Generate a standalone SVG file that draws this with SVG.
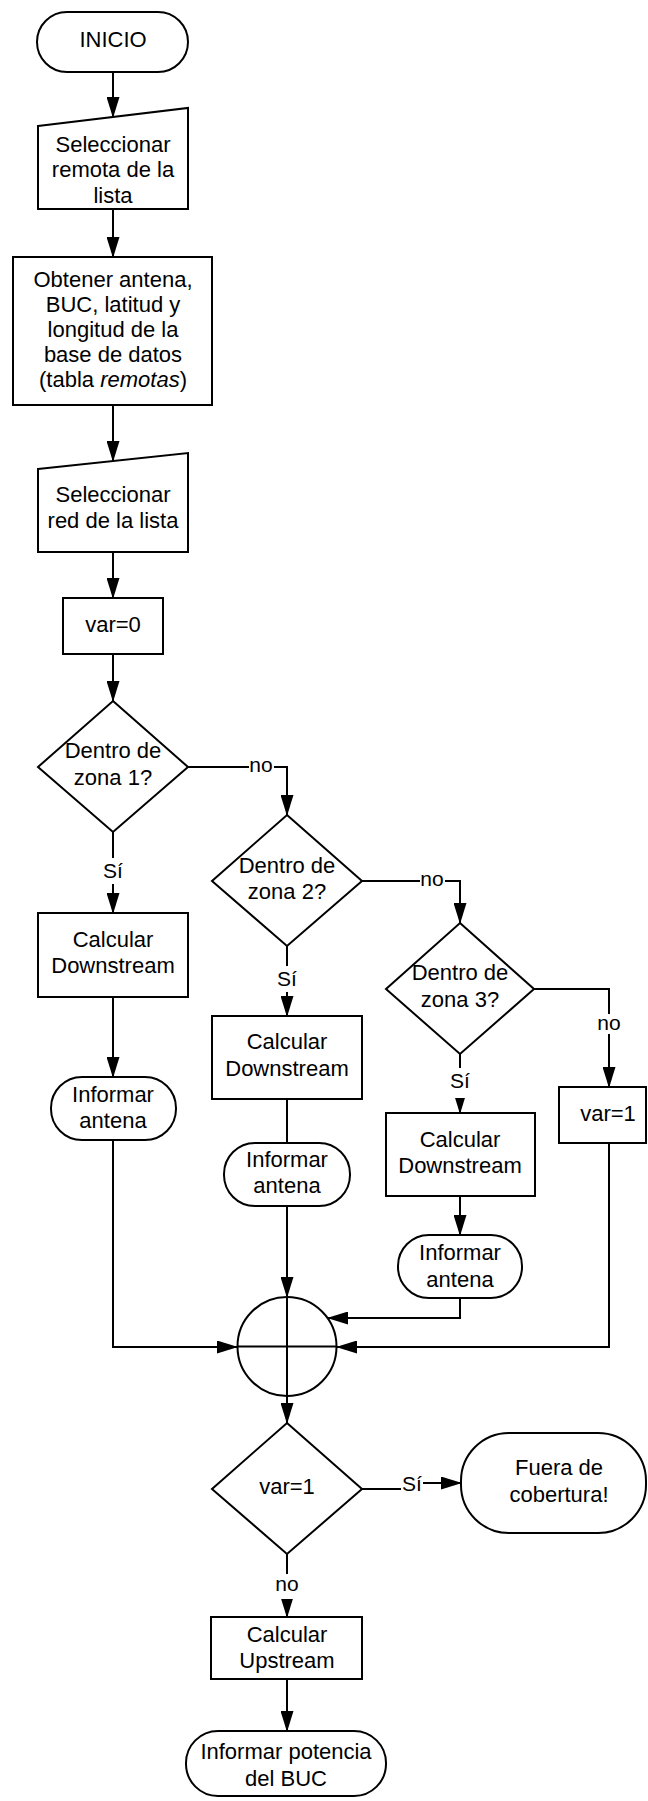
<svg xmlns="http://www.w3.org/2000/svg" width="648" height="1801" viewBox="0 0 648 1801">
  <style>
    .shape { fill: #ffffff; stroke: #000000; stroke-width: 2; }
    .t { font-family: "Liberation Sans", Arial, sans-serif; font-size: 22px; fill: #000000; text-anchor: middle; }
    .lbl { font-family: "Liberation Sans", Arial, sans-serif; font-size: 21px; fill: #000000; text-anchor: middle; }
    .edge { fill: none; stroke: #000000; stroke-width: 2; }
    .arrow { marker-end: url(#head); }
    .lblbg { fill: #ffffff; stroke: none; }
  </style>
  <defs>
    <marker id="head" viewBox="0 0 21 13" refX="20" refY="6.5" markerWidth="21" markerHeight="13" markerUnits="userSpaceOnUse" orient="auto">
      <path d="M0,0 L21,6.5 L0,13 Z" fill="#000000"/>
    </marker>
  </defs>
  <rect width="648" height="1801" fill="#ffffff"/>

  <!-- connectors -->
  <g id="connectors">
    <path class="edge arrow" d="M113,72 V117"/>
    <path class="edge arrow" d="M113,209 V257"/>
    <path class="edge arrow" d="M113,405 V461"/>
    <path class="edge arrow" d="M113,552 V598"/>
    <path class="edge arrow" d="M113,654 V701"/>
    <path class="edge arrow" d="M188,767 H287 V815"/>
    <path class="edge arrow" d="M113,832 V913"/>
    <path class="edge arrow" d="M113,997 V1077"/>
    <path class="edge arrow" d="M362,881 H460 V923"/>
    <path class="edge arrow" d="M287,946 V1016"/>
    <path class="edge" d="M287,1099 V1143"/>
    <path class="edge arrow" d="M534,989 H609 V1087"/>
    <path class="edge arrow" d="M460,1054 V1113"/>
    <path class="edge arrow" d="M460,1196 V1235"/>
    <path class="edge arrow" d="M113,1140 V1347 H237"/>
    <path class="edge arrow" d="M287,1206 V1297"/>
    <path class="edge arrow" d="M460,1298 V1318 H328"/>
    <path class="edge arrow" d="M609,1143 V1347 H337"/>
    <path class="edge arrow" d="M287,1396 V1423"/>
    <path class="edge arrow" d="M362,1489 H410 V1483 H461"/>
    <path class="edge arrow" d="M287,1554 V1617"/>
    <path class="edge arrow" d="M287,1679 V1731"/>

    <!-- connector labels -->
    <g id="edge-labels">
      <rect class="lblbg" x="249" y="756" width="25" height="20"/>
      <text class="lbl" x="261" y="772">no</text>
      <rect class="lblbg" x="102" y="858" width="22" height="26"/>
      <text class="lbl" x="113" y="878">Sí</text>
      <rect class="lblbg" x="276" y="966" width="22" height="26"/>
      <text class="lbl" x="287" y="986">Sí</text>
      <rect class="lblbg" x="420" y="870" width="25" height="20"/>
      <text class="lbl" x="432" y="886">no</text>
      <rect class="lblbg" x="597" y="1014" width="25" height="20"/>
      <text class="lbl" x="609" y="1030">no</text>
      <rect class="lblbg" x="449" y="1068" width="22" height="30"/>
      <text class="lbl" x="460" y="1088">Sí</text>
      <rect class="lblbg" x="401" y="1470" width="22" height="26"/>
      <text class="lbl" x="412" y="1491">Sí</text>
      <rect class="lblbg" x="274" y="1574" width="26" height="25"/>
      <text class="lbl" x="287" y="1591">no</text>
    </g>
  </g>

  <!-- nodes -->
  <g id="inicio">
    <rect class="shape" x="37" y="12" width="151" height="60" rx="30" ry="30"/>
    <text class="t" x="113" y="47">INICIO</text>
  </g>
  <g id="sel-remota">
    <polygon class="shape" points="38,126 188,108 188,209 38,209"/>
    <text class="t" x="113" y="152">Seleccionar</text>
    <text class="t" x="113" y="177">remota de la</text>
    <text class="t" x="113" y="203">lista</text>
  </g>
  <g id="obtener">
    <rect class="shape" x="13" y="257" width="199" height="148"/>
    <text class="t" x="113" y="287">Obtener antena,</text>
    <text class="t" x="113" y="312">BUC, latitud y</text>
    <text class="t" x="113" y="337">longitud de la</text>
    <text class="t" x="113" y="362">base de datos</text>
    <text class="t" x="113" y="387">(tabla <tspan font-style="italic">remotas</tspan>)</text>
  </g>
  <g id="sel-red">
    <polygon class="shape" points="38,469 188,453 188,552 38,552"/>
    <text class="t" x="113" y="502">Seleccionar</text>
    <text class="t" x="113" y="528">red de la lista</text>
  </g>
  <g id="var0">
    <rect class="shape" x="63" y="598" width="100" height="56"/>
    <text class="t" x="113" y="632">var=0</text>
  </g>
  <g id="zona1">
    <polygon class="shape" points="113,701 188,767 113,832 38,767"/>
    <text class="t" x="113" y="758">Dentro de</text>
    <text class="t" x="113" y="785">zona 1?</text>
  </g>
  <g id="down1">
    <rect class="shape" x="38" y="913" width="150" height="84"/>
    <text class="t" x="113" y="947">Calcular</text>
    <text class="t" x="113" y="973">Downstream</text>
  </g>
  <g id="antena1">
    <rect class="shape" x="51" y="1077" width="125" height="63" rx="31" ry="31"/>
    <text class="t" x="113" y="1102">Informar</text>
    <text class="t" x="113" y="1128">antena</text>
  </g>
  <g id="zona2">
    <polygon class="shape" points="287,815 362,881 287,946 212,881"/>
    <text class="t" x="287" y="873">Dentro de</text>
    <text class="t" x="287" y="899">zona 2?</text>
  </g>
  <g id="down2">
    <rect class="shape" x="212" y="1016" width="150" height="83"/>
    <text class="t" x="287" y="1049">Calcular</text>
    <text class="t" x="287" y="1076">Downstream</text>
  </g>
  <g id="antena2">
    <rect class="shape" x="224" y="1143" width="126" height="63" rx="31" ry="31"/>
    <text class="t" x="287" y="1167">Informar</text>
    <text class="t" x="287" y="1193">antena</text>
  </g>
  <g id="zona3">
    <polygon class="shape" points="460,923 534,989 460,1054 386,989"/>
    <text class="t" x="460" y="980">Dentro de</text>
    <text class="t" x="460" y="1007">zona 3?</text>
  </g>
  <g id="down3">
    <rect class="shape" x="386" y="1113" width="149" height="83"/>
    <text class="t" x="460" y="1147">Calcular</text>
    <text class="t" x="460" y="1173">Downstream</text>
  </g>
  <g id="antena3">
    <rect class="shape" x="398" y="1235" width="124" height="63" rx="31" ry="31"/>
    <text class="t" x="460" y="1260">Informar</text>
    <text class="t" x="460" y="1287">antena</text>
  </g>
  <g id="var1">
    <rect class="shape" x="559" y="1087" width="87" height="56"/>
    <text class="t" x="608" y="1121">var=1</text>
  </g>
  <g id="union">
    <circle class="shape" cx="287" cy="1346.5" r="49.5"/>
    <line class="edge" x1="287" y1="1297" x2="287" y2="1396"/>
    <line class="edge" x1="237.5" y1="1346.5" x2="336.5" y2="1346.5"/>
  </g>
  <g id="check-var">
    <polygon class="shape" points="287,1423 362,1489 287,1554 212,1489"/>
    <text class="t" x="287" y="1494">var=1</text>
  </g>
  <g id="fuera">
    <rect class="shape" x="461" y="1433" width="185" height="100" rx="48" ry="48"/>
    <text class="t" x="559" y="1475">Fuera de</text>
    <text class="t" x="559" y="1502">cobertura!</text>
  </g>
  <g id="upstream">
    <rect class="shape" x="211" y="1617" width="151" height="62"/>
    <text class="t" x="287" y="1642">Calcular</text>
    <text class="t" x="287" y="1668">Upstream</text>
  </g>
  <g id="potencia">
    <rect class="shape" x="186" y="1731" width="200" height="65" rx="32" ry="32"/>
    <text class="t" x="286" y="1759">Informar potencia</text>
    <text class="t" x="286" y="1786">del BUC</text>
  </g>
</svg>
